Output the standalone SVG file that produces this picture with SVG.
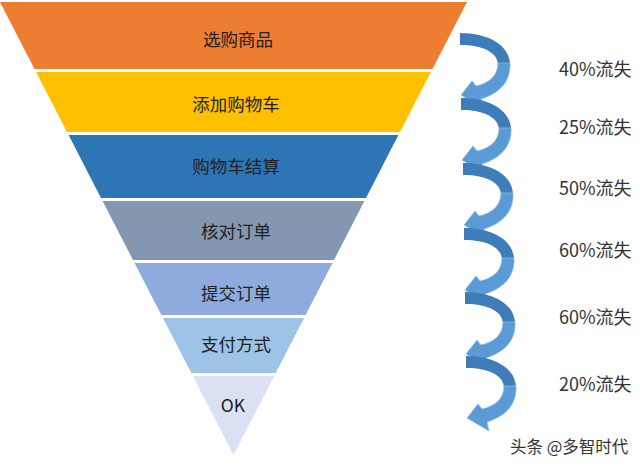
<svg xmlns="http://www.w3.org/2000/svg" width="640" height="470" viewBox="0 0 640 470">
<style>
.lbl{font-family:"Noto Sans CJK SC","Liberation Sans",sans-serif;font-size:17.5px;fill:#222;text-anchor:middle;dominant-baseline:central}
.pct{font-family:"Noto Sans CJK SC","Liberation Sans",sans-serif;font-size:18px;fill:#333;dominant-baseline:central}
.wm{font-family:"Noto Sans CJK SC","Liberation Sans",sans-serif;font-size:16.5px;fill:#333}
.dk{fill:#3F7CBA}
.lt{fill:#5B9BD5;stroke:#8FB9E4;stroke-width:0.8}
</style>
<defs>
<g id="arr">
<path class="dk" d="M0,0 C28,0 50,12 50,32 L38,32 C38,20 24,12 0,12 Z"/>
<path class="lt" d="M50,30 C51,48 40,60 21,66 L23,75 L1,62 L12,48 L16,53 C30,50 38,42 38,30 Z"/>
</g>
</defs>
<rect width="640" height="470" fill="#fff"/>
<g id="funnel">
<g id="n1"><polygon points="0,2 467,2 432.5,69 34.5,69" fill="#ED7D31"/><text class="lbl" x="238" y="38">选购商品</text></g>
<g id="n2"><polygon points="36.1,72 430.9,72 400,132 67,132" fill="#FFC000"/><text class="lbl" x="236" y="103">添加购物车</text></g>
<g id="n3"><polygon points="68.6,135 398.4,135 366,198 101,198" fill="#2E75B6"/><text class="lbl" x="236" y="165">购物车结算</text></g>
<g id="n4"><polygon points="102.6,201 364.4,201 334,260 133,260" fill="#8497B0"/><text class="lbl" x="236" y="230">核对订单</text></g>
<g id="n5"><polygon points="134.5,263 332.5,263 305.6,315 161.4,315" fill="#8FAADC"/><text class="lbl" x="236" y="292">提交订单</text></g>
<g id="n6"><polygon points="162.9,318 304.1,318 275.7,373 191.3,373" fill="#9DC3E6"/><text class="lbl" x="236" y="343">支付方式</text></g>
<g id="n7"><polygon points="192.8,376 274.2,376 233.5,455" fill="#D9E1F2"/><text class="lbl" x="233" y="404">OK</text></g>
</g>
<g id="connectors">
<use href="#arr" x="460" y="33"/>
<use href="#arr" x="461" y="98"/>
<use href="#arr" x="463" y="163"/>
<use href="#arr" x="464" y="228"/>
<use href="#arr" x="465" y="292"/>
<use href="#arr" x="466" y="356"/>
</g>
<g id="labels">
<text class="pct" x="559" y="68">40%流失</text>
<text class="pct" x="559" y="126">25%流失</text>
<text class="pct" x="559" y="187">50%流失</text>
<text class="pct" x="559" y="249">60%流失</text>
<text class="pct" x="559" y="316">60%流失</text>
<text class="pct" x="559" y="383">20%流失</text>
</g>
<text class="wm" x="510" y="453">头条 @多智时代</text>
</svg>
